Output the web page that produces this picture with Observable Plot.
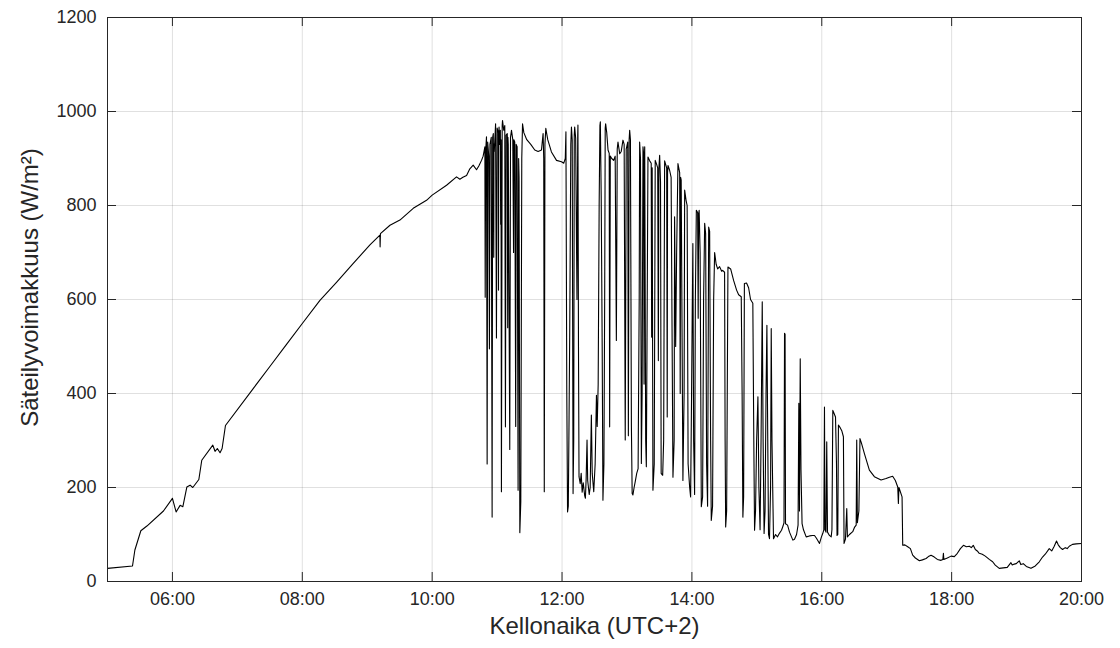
<!DOCTYPE html>
<html>
<head>
<meta charset="utf-8">
<script src="https://cdn.jsdelivr.net/npm/d3@7"></script>
<script src="https://cdn.jsdelivr.net/npm/@observablehq/plot@0.6"></script>
<style>
  html, body { margin: 0; padding: 0; background: #ffffff; }
  #chart { width: 1120px; height: 648px; }
</style>
</head>
<body>
<div id="chart"></div>
<script>
// ---- Data: [minutes since 00:00 (UTC+2), irradiance W/m2] ----
const morning = [
  [300,28],[323.1,33],[325.3,67],[330.8,108],[336.4,118],[351.7,150],[360.0,177],[363.4,148],
  [367.1,162],[369.6,159],[373.3,201],[376.3,205],[378.8,200],[384.4,217],[387.1,258],[397.3,290],
  [399.4,277],[401.5,283],[404.0,274],[405.9,283],[409.0,332],[434.8,411],[450.2,458],[465.6,505],
  [480.0,549],[496.3,598],[511.8,637],[527.1,677],[542.5,716],[551.7,737],[551.9,712],[552.2,740],
  [561.0,758],[570.2,769],[582.5,794],[594.8,811],[600.0,822],[613.3,843],[622.5,861],[625.6,856],
  [628.4,860],[631.8,864],[634.8,878],[637.9,886],[641.0,876],[643.1,884],[645.6,896],[647.1,905]
];

const clouds = [
  [648.7,925],[649.0,605],[649.4,915],[650.2,946],[650.8,250],[651.3,935],[652.3,905],[652.9,495],
  [653.4,930],[654.6,945],[655.4,137],[655.9,945],[656.5,953],[656.9,690],[657.1,930],[657.4,915],
  [658.6,974],[659.4,518],[660.0,965],[661.1,955],[661.3,620],[661.5,950],[661.8,967],[662.5,930],
  [663.0,960],[663.3,760],[663.6,940],[664.0,191],[664.7,970],[665.0,981],[666.1,960],[667.1,970],
  [667.7,329],[668.3,950],[669.4,953],[669.8,540],[670.0,945],[670.3,930],[671.7,281],[672.4,945],
  [673.3,960],[674.5,940],[675.2,700],[675.5,940],[676.3,935],[677.2,330],[677.6,930],[678.5,925],
  [679.4,194],[679.9,900],[680.3,860],[681.0,104],[681.9,170],[682.8,900],[683.5,974],[684.7,955],
  [687.4,940],[691.1,930],[694.8,918],[697.9,915],[701.0,918],[702.5,953],[703.1,900],[703.6,191],
  [704.2,930],[705.0,964],[706.8,940],[710.2,914],[714.9,896],[719.5,893],[721.6,890],[723.0,900],
  [723.6,957],[724.4,400],[725.1,148],[725.8,160],[726.5,350],[727.1,530],[728.1,930],[728.7,967],
  [729.4,940],[730.2,187],[730.8,300],[731.3,950],[731.7,967],[732.6,943],[733.8,600],[734.5,950],
  [734.7,971],[735.2,500],[735.7,223],[736.8,208],[737.7,230],[738.6,190],[739.6,210],[740.9,183],
  [741.6,177],[742.3,220],[743.1,301],[743.7,215],[745.1,185],[746.0,200],[747.1,354],[747.9,230],
  [749.3,191],[750.6,250],[751.8,396],[752.5,330],[753.4,420],[754.3,800],[755.0,970],[755.4,978],
  [756.2,820],[757.1,500],[757.8,173],[758.7,250],[759.4,600],[759.9,965],[760.3,974],[761.3,955],
  [762.5,918],[763.6,911],[764.0,329],[764.6,905],[765.9,900],[767.7,896],[769.1,905],[770.2,513],
  [771.0,920],[771.7,935],[773.3,910],[774.7,915],[776.3,939],[777.4,930],[778.4,301],[779.3,920],
  [780.7,935],[781.3,310],[782.0,940],[782.5,960],[783.2,940],[784.1,330],[784.8,187],[785.5,184],
  [786.6,200],[787.6,212],[789.0,230],[790.3,240],[791.3,600],[791.7,935],[792.5,900],[793.3,251],
  [794.0,400],[794.8,925],[795.4,910],[795.8,420],[796.1,900],[796.4,925],[797.3,300],[797.9,244],
  [798.5,500],[799.4,903],[801.0,895],[802.4,890],[802.8,520],[803.0,870],[803.3,880],[804.0,194],
  [805.2,250],[806.1,896],[807.2,889],[808.4,880],[809.0,470],[809.5,880],[810.2,907],[811.0,850],
  [811.6,230],[813.0,226],[813.9,300],[814.8,895],[816.7,880],[817.2,350],[817.5,870],[817.9,885],
  [819.4,875],[820.8,860],[822.5,222],[823.6,300],[824.0,776],[825.0,500],[825.9,700],[827.1,889],
  [828.7,870],[829.2,400],[829.6,860],[830.1,854],[831.7,215],[832.8,400],[833.3,833],[834.6,811],
  [835.6,800],[836.5,250],[837.9,201],[838.8,180],[839.7,400],[840.9,719],[841.6,300],[842.5,185],
  [843.2,600],[844.1,790],[845.3,785],[845.8,560],[846.2,780],[846.7,790],[847.6,700],[848.7,159],
  [849.9,180],[850.8,600],[851.8,762],[852.7,740],[853.6,250],[854.5,160],[855.5,754],[856.4,745],
  [857.3,300],[857.9,130],[859.1,160],[860.1,600],[861.0,700],[862.4,675],[863.8,665],[865.6,670],
  [867.5,660],[868.4,662],[870.2,658],[870.7,300],[871.2,116],[872.1,150],[873.3,669],[875.8,665],
  [878.6,640],[881.3,620],[883.2,610],[885.6,606],[886.4,400],[887.1,137],[887.8,180],[888.5,634],
  [890.5,635],[892.4,625],[894.2,600],[896.3,592],[897.2,300],[897.9,109],[898.8,150],[899.8,300],
  [901.0,393],[901.9,200],[903.0,110],[903.9,300],[905.0,595],[905.8,300],[906.7,102],[907.6,150],
  [908.5,400],[909.3,545],[910.1,300],[910.8,100],[911.7,91],[912.7,200],[913.3,538],[914.0,300],
  [915.4,91],[917.3,100],[919.1,95],[921.0,103],[922.8,109],[924.2,118],[925.1,125],[925.6,528],
  [926.1,526],[926.5,123],[928.4,120],[930.2,105],[933.3,88],[934.8,90],[936.7,100],[938.1,120],
  [938.8,379],[939.4,150],[940.1,474],[940.8,237],[941.8,123],[943.1,110],[945.6,95],[948.7,97],
  [951.4,98],[953.3,98],[955.1,92],[957.9,81],[959.7,95],[960.9,102],[961.9,110],[962.5,371],
  [963.0,110],[963.9,105],[964.6,297],[965.3,105],[967.1,98],[968.7,95],[969.4,110],[970.2,364],
  [971.3,358],[972.7,350],[973.6,250],[974.1,98],[974.8,100],[975.4,333],[976.8,328],[978.6,320],
  [980.0,308],[980.6,81],[981.9,90],[983.1,155],[983.7,95],[985.6,100],[988.6,106],[990.2,115],
  [991.8,120],[992.3,301],[992.9,125],[994.3,150],[995.3,304],[996.6,295],[999.4,272],[1004.0,237],
  [1008.6,223],[1014.8,216],[1019.4,219],[1022.5,222],[1025.5,224],[1028.0,215],[1030.2,201],[1030.8,166],
  [1031.3,200],[1034.2,180]
];

const evening = [
  [1034.8,77],[1036.8,78],[1039.4,74],[1041.9,70],[1044.0,56],[1046.5,50],[1050.2,44],[1053.0,46],
  [1056.4,49],[1058.5,53],[1061.0,56],[1064.0,52],[1066.8,47],[1070.2,45],[1071.9,47],[1072.4,60],
  [1072.8,47],[1076.0,50],[1079.5,54],[1082.5,53],[1085.3,60],[1088.1,70],[1090.9,77],[1093.6,74],
  [1096.4,75],[1098.2,72],[1100.0,77],[1101.9,68],[1103.7,65],[1105.5,60],[1108.3,58],[1111.1,54],
  [1114.8,47],[1117.9,42],[1120.3,35],[1124.0,28],[1127.7,29],[1131.4,30],[1134.8,40],[1136.0,35],
  [1137.9,37],[1139.7,38],[1142.5,44],[1143.9,36],[1146.2,38],[1149.0,32],[1153.3,28],[1157.3,33],
  [1161.0,42],[1164.0,52],[1166.5,58],[1170.2,70],[1172.5,65],[1174.8,75],[1176.9,86],[1178.5,78],
  [1180.4,72],[1182.5,68],[1185.0,72],[1186.8,70],[1188.7,75],[1191.7,79],[1195.1,80],[1200.0,81]
];

const xDomain = ["05:00", "20:00"];
const xTicks = ["06:00", "08:00", "10:00", "12:00", "14:00", "16:00", "18:00", "20:00"];
const yTicks = [0, 200, 400, 600, 800, 1000, 1200];
const xLabel = "Kellonaika (UTC+2)";
const yLabel = "Säteilyvoimakkuus (W/m²)";

// ---- Build ----
const parseHM = d3.utcParse("%H:%M");
const fmtHM = d3.utcFormat("%H:%M");
const day0 = Date.UTC(1900, 0, 1);
const toDate = m => new Date(day0 + Math.round(m * 60000));
const data = [...morning, ...clouds, ...evening].map(([m, v]) => ({time: toDate(m), value: v}));
const xTickDates = xTicks.map(parseHM);

const W = 1120, H = 648, mT = 17, mR = 39, mB = 67, mL = 107;
const innerH = H - mT - mB, innerW = W - mL - mR;
const tickLen = 9;
const ink = "#262626";

const chart = Plot.plot({
  width: W, height: H,
  marginTop: mT, marginRight: mR, marginBottom: mB, marginLeft: mL,
  style: {background: "#ffffff", fontFamily: "'Liberation Sans', Arial, Helvetica, sans-serif", fontSize: "18px", color: ink, overflow: "visible"},
  x: {type: "utc", domain: xDomain.map(parseHM)},
  y: {domain: [yTicks[0], yTicks[yTicks.length - 1]]},
  marks: [
    Plot.gridX(xTickDates, {stroke: ink, strokeOpacity: 0.14, strokeWidth: 1}),
    Plot.gridY(yTicks, {stroke: ink, strokeOpacity: 0.14, strokeWidth: 1}),
    Plot.line(data, {x: "time", y: "value", stroke: "#000000", strokeWidth: 1.1}),
    Plot.tickX(xTickDates, {x: d => d, insetTop: innerH - tickLen, stroke: ink}),
    Plot.tickX(xTickDates, {x: d => d, insetBottom: innerH - tickLen, stroke: ink}),
    Plot.tickY(yTicks, {y: d => d, insetRight: innerW - tickLen, stroke: ink}),
    Plot.tickY(yTicks, {y: d => d, insetLeft: innerW - tickLen, stroke: ink}),
    Plot.frame({stroke: ink, strokeWidth: 1}),
    Plot.axisX(xTickDates, {tickSize: 0, tickPadding: 11, tickFormat: fmtHM, label: null, fill: ink}),
    Plot.axisY(yTicks, {tickSize: 0, tickPadding: 11, tickFormat: d => String(d), label: null, fill: ink}),
    Plot.text([xLabel], {text: d => d, frameAnchor: "bottom", dy: 52, fontSize: 24, fill: ink, textAnchor: "middle"}),
    Plot.text([yLabel], {text: d => d, frameAnchor: "left", dx: -77, dy: -12, rotate: -90, fontSize: 24, fill: ink, textAnchor: "middle"})
  ]
});
document.getElementById("chart").appendChild(chart);
</script>
</body>
</html>
